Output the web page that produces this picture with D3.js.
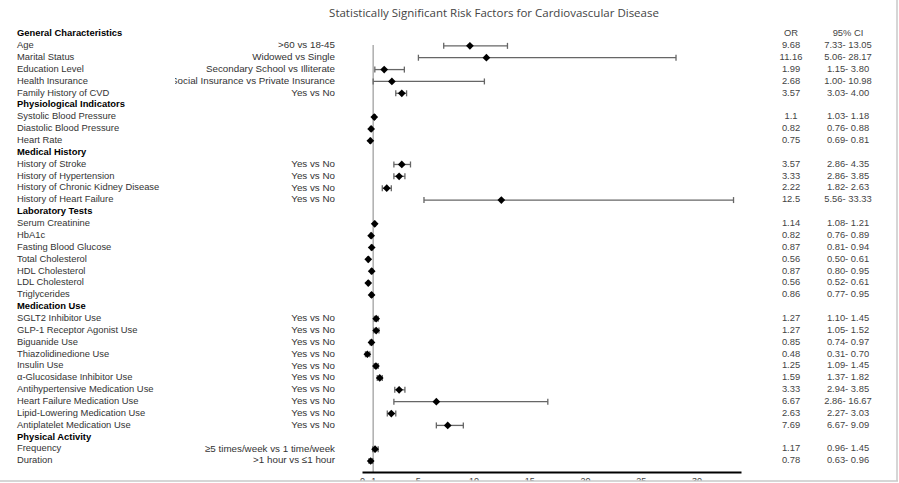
<!DOCTYPE html>
<html><head><meta charset="utf-8">
<script src="https://cdn.jsdelivr.net/npm/d3@7/dist/d3.min.js"></script>
<style>body{margin:0;background:#fff}svg{display:block}</style>
</head><body>
<svg id="c" width="899" height="483"></svg>
<script>
const labels = ["General Characteristics","Age","Marital Status","Education Level","Health Insurance","Family History of CVD",
"Physiological Indicators","Systolic Blood Pressure","Diastolic Blood Pressure","Heart Rate",
"Medical History","History of Stroke","History of Hypertension","History of Chronic Kidney Disease","History of Heart Failure",
"Laboratory Tests","Serum Creatinine","HbA1c","Fasting Blood Glucose","Total Cholesterol","HDL Cholesterol","LDL Cholesterol","Triglycerides",
"Medication Use","SGLT2 Inhibitor Use","GLP-1 Receptor Agonist Use","Biguanide Use","Thiazolidinedione Use","Insulin Use","α-Glucosidase Inhibitor Use","Antihypertensive Medication Use","Heart Failure Medication Use","Lipid-Lowering Medication Use","Antiplatelet Medication Use",
"Physical Activity","Frequency","Duration"];
const isHeader = [1,0,0,0,0,0, 1,0,0,0, 1,0,0,0,0, 1,0,0,0,0,0,0,0, 1,0,0,0,0,0,0,0,0,0,0, 1,0,0];
const comparisons = ["",">60 vs 18-45","Widowed vs Single","Secondary School vs Illiterate","Social Insurance vs Private Insurance","Yes vs No",
"","","","",
"","Yes vs No","Yes vs No","Yes vs No","Yes vs No",
"","","","","","","","",
"","Yes vs No","Yes vs No","Yes vs No","Yes vs No","Yes vs No","Yes vs No","Yes vs No","Yes vs No","Yes vs No","Yes vs No",
"","≥5 times/week vs 1 time/week",">1 hour vs ≤1 hour"];
const orText = ["","9.68","11.16","1.99","2.68","3.57","","1.1","0.82","0.75","","3.57","3.33","2.22","12.5","","1.14","0.82","0.87","0.56","0.87","0.56","0.86","","1.27","1.27","0.85","0.48","1.25","1.59","3.33","6.67","2.63","7.69","","1.17","0.78"];
const ciLow = [null,7.33,5.06,1.15,1.00,3.03,null,1.03,0.76,0.69,null,2.86,2.86,1.82,5.56,null,1.08,0.76,0.81,0.50,0.80,0.52,0.77,null,1.10,1.05,0.74,0.31,1.09,1.37,2.94,2.86,2.27,6.67,null,0.96,0.63];
const ciHigh = [null,13.05,28.17,3.80,10.98,4.00,null,1.18,0.88,0.81,null,4.35,3.85,2.63,33.33,null,1.21,0.89,0.94,0.61,0.95,0.61,0.95,null,1.45,1.52,0.97,0.70,1.45,1.82,3.85,16.67,3.03,9.09,null,1.45,0.96];
const ciText = ["","7.33- 13.05","5.06- 28.17","1.15- 3.80","1.00- 10.98","3.03- 4.00","","1.03- 1.18","0.76- 0.88","0.69- 0.81","","2.86- 4.35","2.86- 3.85","1.82- 2.63","5.56- 33.33","","1.08- 1.21","0.76- 0.89","0.81- 0.94","0.50- 0.61","0.80- 0.95","0.52- 0.61","0.77- 0.95","","1.10- 1.45","1.05- 1.52","0.74- 0.97","0.31- 0.70","1.09- 1.45","1.37- 1.82","2.94- 3.85","2.86- 16.67","2.27- 3.03","6.67- 9.09","","0.96- 1.45","0.63- 0.96"];
const xTicks = [0,1,5,10,15,20,25,30];
const title = "Statistically Significant Risk Factors for Cardiovascular Disease";

const rows = labels.map((l,i)=>({i, label:l, header:!!isHeader[i], comp:comparisons[i], or:orText[i]===""?null:+orText[i], orT:orText[i], lo:ciLow[i], hi:ciHigh[i], ci:ciText[i]}));
const svg = d3.select("#c");
const font = "'Liberation Sans', Arial, sans-serif";
const x = d3.scaleLinear().domain([0,34]).range([362,741]);
const y = d3.scalePoint().domain(d3.range(labels.length)).range([33,460]);

svg.append("defs").append("clipPath").attr("id","compClip")
  .append("rect").attr("x",175).attr("y",0).attr("width",200).attr("height",483);

svg.append("text").attr("x",494).attr("y",17).attr("text-anchor","middle")
  .attr("font-family","'Open Sans', 'Noto Sans', sans-serif").attr("font-size",11.5).attr("fill","#444").text(title);

const g = svg.append("g").attr("font-family",font).attr("font-size",9.4);
g.selectAll("text.lab").data(rows).join("text").attr("class","lab")
  .attr("x",17).attr("y",d=>y(d.i)).attr("dy","0.35em")
  .attr("font-weight",d=>d.header?"bold":"normal")
  .attr("fill",d=>d.header?"#000":"#333").text(d=>d.label);
g.append("g").attr("clip-path","url(#compClip)").attr("font-size",9.8)
  .selectAll("text.comp").data(rows.filter(d=>d.comp)).join("text").attr("class","comp")
  .attr("x",335).attr("y",d=>y(d.i)).attr("dy","0.35em").attr("text-anchor","end").attr("fill","#333").text(d=>d.comp);

// OR / CI columns
g.append("text").attr("x",791).attr("y",y(0)).attr("dy","0.35em").attr("text-anchor","middle").attr("fill","#444").text("OR");
g.append("text").attr("x",848).attr("y",y(0)).attr("dy","0.35em").attr("text-anchor","middle").attr("fill","#444").text("95% CI");
const dataRows = rows.filter(d=>d.or!==null);
g.selectAll("text.or").data(dataRows).join("text").attr("class","or")
  .attr("x",791).attr("y",d=>y(d.i)).attr("dy","0.35em").attr("text-anchor","middle").attr("fill","#444").text(d=>d.orT);
g.selectAll("text.ci").data(dataRows).join("text").attr("class","ci")
  .attr("x",848).attr("y",d=>y(d.i)).attr("dy","0.35em").attr("text-anchor","middle").attr("fill","#444").text(d=>d.ci);

// reference line at 1
svg.append("line").attr("x1",x(1)).attr("x2",x(1)).attr("y1",45).attr("y2",472).attr("stroke","#999").attr("stroke-width",1.2);

// whiskers
const w = svg.append("g").attr("stroke","#666").attr("stroke-width",1.3);
w.selectAll("line.h").data(dataRows).join("line").attr("x1",d=>x(d.lo)).attr("x2",d=>x(d.hi)).attr("y1",d=>y(d.i)+1).attr("y2",d=>y(d.i)+1);
w.selectAll("line.l").data(dataRows).join("line").attr("x1",d=>x(d.lo)).attr("x2",d=>x(d.lo)).attr("y1",d=>y(d.i)-2).attr("y2",d=>y(d.i)+4);
w.selectAll("line.r").data(dataRows).join("line").attr("x1",d=>x(d.hi)).attr("x2",d=>x(d.hi)).attr("y1",d=>y(d.i)-2).attr("y2",d=>y(d.i)+4);

// markers (square diamonds)
const sym = d3.symbol().type(d3.symbolSquare).size(30);
svg.selectAll("path.m").data(dataRows).join("path").attr("class","m")
  .attr("transform",d=>`translate(${x(d.or)},${y(d.i)+1}) rotate(45)`).attr("d",sym).attr("fill","#000");

// axis
const ax = svg.append("g").attr("transform","translate(0,472)")
  .call(d3.axisBottom(x).tickValues(xTicks).tickSize(0).tickPadding(6).tickFormat(d3.format("d")));
ax.select(".domain").attr("stroke","#000").attr("stroke-width",2);
ax.selectAll("text").attr("font-family",font).attr("font-size",9).attr("fill","#444");

// frame edges
svg.append("rect").attr("x",0).attr("y",481).attr("width",899).attr("height",2).attr("fill","#fff");
svg.append("line").attr("x1",0).attr("x2",898).attr("y1",481).attr("y2",481).attr("stroke","#c8c8c8").attr("stroke-width",1.5);
svg.append("line").attr("x1",897).attr("x2",897).attr("y1",0).attr("y2",481).attr("stroke","#c8c8c8").attr("stroke-width",1.5);
</script>
</body></html>
